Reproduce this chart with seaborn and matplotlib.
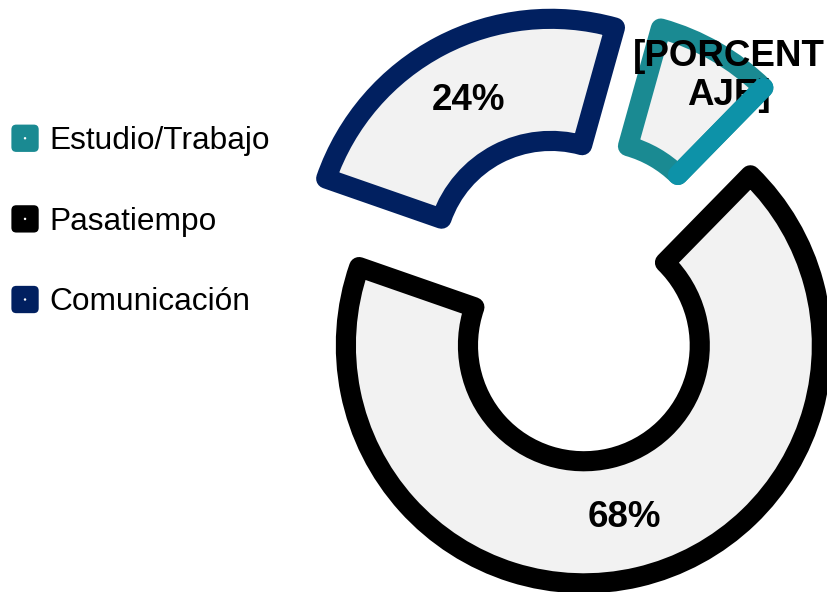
import matplotlib
matplotlib.use("Agg")
import matplotlib.pyplot as plt
import seaborn as sns
import numpy as np
from matplotlib.patches import FancyBboxPatch, Circle, Patch
from matplotlib.legend_handler import HandlerBase

# ---- data ----
categories = ["Estudio/Trabajo", "Pasatiempo", "Comunicación"]
values = [8, 68, 24]
pct_labels = ["[PORCENT\nAJE]", "68%", "24%"]
edge_colors = ["#1A8A92", "#000000", "#012060"]

sns.set_theme(style="white")
plt.rcParams["font.family"] = ["Liberation Sans", "DejaVu Sans"]
plt.rcParams["text.color"] = "black"

fig = plt.figure(figsize=(8.28, 5.92), dpi=100)
ax = fig.add_axes([0, 0, 1, 1])

wedges, _ = ax.pie(
    values,
    startangle=74.4,
    counterclock=False,
    radius=1.0,
    explode=[0.2] * len(values),
    colors=["#F2F2F2"] * len(values),
    wedgeprops=dict(width=0.513, linewidth=14.5, joinstyle="round"),
)
for w, c in zip(wedges, edge_colors):
    w.set_edgecolor(c)

# percentage labels placed from wedge geometry
for i, (w, lab) in enumerate(zip(wedges, pct_labels)):
    if i == 0:
        continue
    th = np.deg2rad((w.theta1 + w.theta2) / 2)
    rm = w.r - w.width / 2
    cx, cy = w.center
    ax.text(cx + rm * np.cos(th), cy + rm * np.sin(th), lab, ha="center", va="center",
            fontsize=26.5, fontweight="bold", color="black", zorder=4)

# Excel-placeholder label for the small slice (overflowing its wedge)
ax.text(0.655, 0.935, pct_labels[0], ha="center", va="center", fontsize=26.5,
        fontweight="bold", color="black", linespacing=1.15, zorder=4)

# brighter right edge of the small slice drawn on top (as in the reference)
w0 = wedges[0]
th0 = np.deg2rad(w0.theta1)
cx, cy = w0.center
rin = w0.r - w0.width
ax.plot([cx + rin * np.cos(th0), cx + w0.r * np.cos(th0)],
        [cy + rin * np.sin(th0), cy + w0.r * np.sin(th0)],
        color="#0D92A8", lw=14.5, solid_capstyle="round", zorder=5)

ax.set_xlim(-573 / 238, (828 - 573) / 238)
ax.set_ylim(-(592 - 299) / 238, 299 / 238)
ax.set_aspect("auto")
ax.axis("off")


class RoundSquareHandler(HandlerBase):
    def create_artists(self, legend, orig_handle, xdescent, ydescent, width, height,
                       fontsize, trans):
        size = min(width, height)
        x0 = -xdescent + (width - size) / 2
        y0 = -ydescent + (height - size) / 2
        p = FancyBboxPatch((x0, y0), size, size,
                           boxstyle=f"round,pad=0,rounding_size={size * 0.18}",
                           facecolor=orig_handle.get_facecolor(), edgecolor="none",
                           transform=trans)
        d = Circle((x0 + size / 2, y0 + size / 2), size * 0.045, facecolor="white",
                   edgecolor="none", transform=trans)
        return [p, d]


handles = [Patch(facecolor=c) for c in ["#1A8A92", "#000000", "#012060"]]
leg = fig.legend(handles, categories, handler_map={Patch: RoundSquareHandler()},
                 loc="center left", bbox_to_anchor=(10 / 828, 1 - 221 / 592),
                 bbox_transform=fig.transFigure, frameon=False, fontsize=22.8,
                 borderpad=0, borderaxespad=0, labelspacing=1.55, handlelength=0.95,
                 handleheight=0.95, handletextpad=0.3)
for t in leg.get_texts():
    t.set_color("black")

fig.savefig("out.png", dpi=100)
